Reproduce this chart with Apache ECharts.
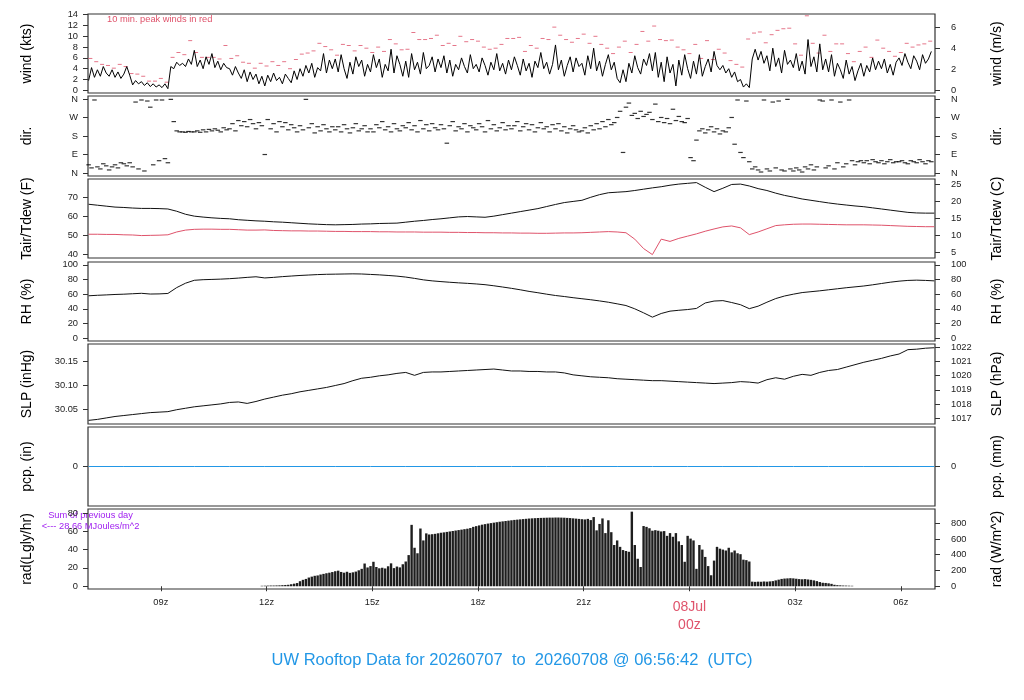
<!DOCTYPE html>
<html>
<head>
<meta charset="utf-8">
<script src="https://cdn.jsdelivr.net/npm/echarts@6/dist/echarts.min.js"></script>
</head>
<body style="margin:0">
<div id="container" style="width:1024px;height:700px"></div>
<script>
// hours since 00z 07 Jul; 5-min wind / direction, starting 06:57
var windStart = 6.95, step5 = 1 / 12;
var wind = [
  1.8, 4.2, 2.4, 3.8, 2.6, 4.4, 3.2, 2.6, 3.8, 2.4, 3.4, 2.2,
  3.0, 4.4, 2.8, 1.0, 1.8, 1.2, 1.6, 0.9, 1.4, 0.7, 1.2, 0.6,
  1.0, 0.5, 1.2, 0.3, 4.4, 4.0, 5.2, 4.6, 5.0, 4.4, 5.8, 4.8,
  7.4, 4.4, 5.6, 4.0, 6.2, 4.8, 6.8, 4.2, 5.4, 3.8, 5.0, 4.2,
  4.0, 2.8, 4.4, 3.2, 2.2, 3.8, 1.6, 3.4, 2.0, 3.0, 1.2, 2.6,
  0.8, 2.8, 1.6, 3.2, 1.8, 2.4, 1.2, 3.0, 2.2, 1.4, 3.6, 2.0,
  4.0, 2.6, 4.6, 3.2, 5.0, 2.4, 4.2, 3.6, 6.8, 3.2, 5.6, 4.0,
  5.8, 3.4, 6.6, 4.0, 2.2, 5.2, 3.0, 6.2, 4.4, 5.6, 2.6, 4.8,
  3.4, 6.6, 4.2, 5.8, 2.4, 4.8, 3.6, 7.6, 3.2, 6.4, 4.8, 2.6,
  5.4, 2.4, 6.8, 3.8, 5.2, 3.0, 7.0, 4.0, 4.6, 6.2, 3.4, 5.8,
  4.2, 6.4, 3.2, 5.6, 2.6, 4.8, 3.8, 6.0, 4.4, 3.2, 6.6, 4.0,
  4.8, 3.4, 6.0, 4.6, 2.8, 5.2, 3.8, 6.8, 3.6, 5.0, 3.0, 5.6,
  3.8, 6.2, 4.6, 2.8, 5.8, 3.6, 5.0, 2.4, 5.4, 4.2, 7.0, 4.0,
  5.2, 3.0, 4.8, 8.4, 3.8, 5.6, 2.6, 4.6, 6.2, 3.4, 6.0, 4.4,
  5.0, 2.8, 6.4, 4.0, 7.8, 3.6, 5.4, 2.6, 4.8, 6.6, 3.8, 5.2,
  2.2, 1.4, 3.8, 1.6, 5.0, 3.2, 6.4, 4.2, 3.0, 5.8, 4.6, 6.8,
  3.6, 7.0, 2.4, 5.2, 1.6, 6.2, 3.2, 4.8, 0.8, 5.6, 2.8, 6.6,
  4.0, 2.2, 5.4, 3.0, 6.6, 2.6, 4.4, 5.8, 3.4, 7.2, 4.6, 3.8,
  4.6, 3.2, 4.0, 2.4, 3.4, 1.6, 2.0, 0.6, 1.2, 0.5, 5.8, 7.6,
  5.6, 7.2, 5.0, 6.4, 3.6, 7.8, 4.4, 6.0, 3.2, 7.4, 4.8, 5.6,
  4.2, 6.8, 3.6, 5.4, 3.0, 9.4, 4.4, 6.2, 3.4, 8.6, 3.8, 5.8,
  3.4, 6.6, 2.6, 5.0, 3.8, 2.2, 5.6, 3.0, 4.4, 1.8, 3.6, 5.0,
  2.6, 4.6, 3.4, 6.0, 3.8, 5.4, 4.0, 5.8, 3.2, 4.8, 2.8, 5.2,
  6.0, 4.6, 6.8, 5.2, 4.0, 6.4, 5.4, 3.8, 6.6, 5.0, 5.8, 7.2
];
// 10-min peak winds (kts), starting 07:00
var peakStart = 7.0, step10 = 1 / 6;
var peak = [
  5.9, 5.3, 4.8, 4.6, 4.1, 4.8,
  4.4, 3.1, 3.0, 2.6, 1.7, 1.7,
  2.2, 1.5, 6.1, 7.0, 6.6, 9.2,
  7.0, 6.1, 6.1, 6.1, 5.8, 8.3,
  5.9, 6.4, 5.2, 5.0, 4.1, 5.0,
  4.5, 5.3, 4.6, 5.3, 4.0, 5.7,
  6.7, 6.9, 7.3, 8.7, 8.1, 7.5,
  6.5, 8.5, 8.3, 7.3, 8.3, 7.8,
  7.0, 8.0, 7.2, 9.4, 8.6, 7.5,
  7.6, 10.7, 9.4, 9.4, 9.6, 10.2,
  8.3, 8.7, 8.3, 10.0, 9.0, 9.4,
  9.1, 8.0, 7.6, 7.8, 8.5, 9.6,
  9.6, 9.8, 7.2, 8.3, 7.8, 9.6,
  9.4, 11.7, 10.2, 9.4, 8.9, 9.6,
  10.4, 8.7, 10.0, 8.5, 7.8, 6.8,
  8.0, 9.1, 7.0, 8.5, 10.9, 9.1,
  11.9, 9.4, 9.2, 9.3, 8.0, 7.5,
  6.8, 8.5, 5.9, 9.2, 5.7, 7.6,
  6.9, 5.5, 4.8, 4.3, 9.5, 10.6,
  10.8, 8.8, 10.3, 11.1, 11.4, 11.5,
  8.6, 6.5, 13.8, 8.7, 6.9, 10.2,
  7.2, 8.6, 8.6, 6.8, 5.3, 7.2,
  8.0, 6.1, 9.3, 7.8, 7.2, 6.3,
  7.0, 8.7, 8.0, 8.4, 8.6, 9.1
];
// wind direction (deg), 5-min
var dir = [
  40, 25, 355, 30, 20, 45, 35, 15, 30, 40, 25, 50,
  45, 35, 50, 30, 345, 20, 355, 10, 350, 320, 40, 355,
  60, 355, 70, 50, 358, 250, 205, 200, 200, 198, 202, 200,
  200, 205, 198, 210, 200, 212, 205, 215, 208, 200, 220, 210,
  215, 240, 205, 255, 230, 250, 225, 260, 240, 215, 245, 230,
  90, 260, 215, 240, 200, 250, 225, 245, 210, 235, 220, 200,
  230, 210, 358, 220, 240, 195, 225, 205, 235, 215, 200, 225,
  210, 225, 200, 235, 215, 195, 220, 240, 205, 215, 230, 200,
  215, 200, 235, 220, 250, 210, 225, 200, 240, 215, 205, 230,
  220, 245, 210, 230, 200, 255, 215, 235, 205, 240, 220, 210,
  235, 215, 145, 230, 250, 205, 225, 215, 240, 200, 230, 220,
  210, 240, 225, 200, 255, 215, 235, 205, 220, 245, 210, 230,
  215, 230, 250, 205, 225, 240, 210, 235, 200, 220, 245, 215,
  225, 200, 235, 215, 240, 205, 225, 195, 215, 230, 210, 200,
  205, 220, 195, 230, 210, 240, 215, 250, 225, 260, 235, 245,
  270, 300, 100, 320, 340, 280, 290, 265, 300, 275, 285, 295,
  260, 335, 250, 270, 245, 265, 240, 310, 255, 275, 250, 245,
  265, 75, 60, 160, 205, 215, 195, 210, 225, 200, 215, 190,
  205, 200, 220, 270, 140, 355, 100, 75, 350, 55, 20, 30,
  15, 5, 355, 20, 10, 345, 25, 350, 15, 10, 358, 20,
  10, 25, 15, 5, 30, 20, 40, 15, 30, 355, 350, 25,
  35, 355, 20, 50, 345, 30, 45, 355, 60, 40, 55, 60,
  50, 60, 45, 65, 55, 50, 60, 45, 55, 65, 50, 55,
  55, 60, 50, 45, 60, 55, 50, 65, 55, 45, 60, 55
];
// 15-min state values, starting 06:57
var stateStart = 6.95, step15 = 0.25;
var tair = [
  66.5, 66.0, 65.5, 65.0, 64.8, 64.5, 64.3, 64.3, 64.2, 64.0,
  62.8, 61.2, 60.2, 59.7, 59.3, 59.0, 58.8, 58.3, 58.0, 57.7,
  57.5, 57.2, 57.0, 56.7, 56.4, 56.1, 55.9, 55.7, 55.6, 55.7,
  55.8, 56.0, 56.1, 56.3, 56.4, 56.5, 57.0, 57.5, 57.9, 58.4,
  58.8, 59.3, 59.8, 60.0, 59.8, 59.6, 60.2, 61.0, 61.8, 62.6,
  63.4, 64.2, 65.3, 66.4, 67.4, 68.0, 68.6, 70.2, 71.6, 72.6,
  72.9, 73.2, 73.8, 74.5, 75.2, 75.8, 76.6, 77.2, 77.6, 78.0,
  75.5, 73.2, 75.0, 77.0, 77.2, 76.2, 74.8, 73.8, 72.4, 71.2,
  70.3, 69.3, 68.6, 67.9, 67.2, 66.6, 66.1, 65.6, 65.2, 64.6,
  64.0, 63.4, 62.8, 62.2, 61.9, 61.8, 61.8
];
var tdew = [
  50.6, 50.6, 50.5, 50.5, 50.3, 50.2, 49.9, 50.0, 50.1, 50.3,
  51.8, 52.8, 53.2, 53.3, 53.3, 53.2, 53.2, 53.0, 52.8, 52.8,
  52.9, 52.6, 52.5, 52.4, 52.4, 52.3, 52.3, 52.2, 52.1, 52.1,
  52.0, 52.0, 52.0, 51.9, 51.9, 51.8, 51.8, 51.8, 51.7, 51.7,
  51.7, 51.6, 51.6, 51.5, 51.5, 51.4, 51.4, 51.3, 51.3, 51.2,
  51.2, 51.1, 51.1, 51.2, 51.3, 51.3, 51.4, 51.6, 51.8, 52.0,
  51.8, 51.4, 48.0, 43.0, 39.8, 48.0, 46.8, 48.4, 49.6, 50.8,
  52.2, 53.4, 54.5, 55.0, 54.0, 50.4, 51.8, 53.5, 55.2, 55.6,
  55.9, 56.0, 56.0, 55.9, 55.8, 55.7, 55.6, 55.6, 55.6, 55.5,
  55.4, 55.2, 55.0, 54.8, 54.7, 54.6, 54.6
];
var rh = [
  57.8, 58.5, 59.0, 59.6, 60.0, 60.6, 61.2, 60.2, 60.4, 61.0,
  69.0, 75.0, 79.0, 79.8, 80.2, 80.6, 81.2, 82.0, 83.0, 83.8,
  82.2, 83.0, 84.0, 84.8, 85.6, 86.2, 86.8, 87.2, 87.4, 87.6,
  87.8, 87.6, 87.0, 86.4, 85.6, 84.7, 83.4, 81.6, 79.6, 78.2,
  77.2, 76.3, 75.5, 74.8, 74.0, 73.0, 71.5, 69.8, 68.0, 66.0,
  63.8, 62.0, 60.0, 58.2, 56.8, 55.2, 53.8, 52.4, 50.8, 49.0,
  46.8, 44.5, 40.0, 34.5, 28.6, 33.6, 36.8, 38.0, 39.0, 40.5,
  48.0, 50.6, 51.2, 48.6, 45.6, 40.2, 43.6, 49.0, 54.0, 57.5,
  60.0, 62.2, 63.4, 64.6, 66.0, 67.4, 68.8, 70.0, 71.2, 72.8,
  74.6, 76.4, 77.8, 78.8, 79.2, 78.8, 78.2
];
var slp = [
  30.028, 30.030, 30.033, 30.036, 30.038, 30.040, 30.042, 30.044, 30.045, 30.046,
  30.050, 30.053, 30.056, 30.058, 30.060, 30.062, 30.065, 30.066, 30.063, 30.067,
  30.072, 30.076, 30.080, 30.083, 30.087, 30.090, 30.093, 30.096, 30.100, 30.104,
  30.110, 30.115, 30.117, 30.120, 30.122, 30.125, 30.127, 30.121, 30.127, 30.128,
  30.128, 30.129, 30.130, 30.131, 30.132, 30.133, 30.134, 30.132, 30.130, 30.130,
  30.129, 30.129, 30.128, 30.128, 30.126, 30.122, 30.120, 30.118, 30.117, 30.116,
  30.114, 30.113, 30.112, 30.111, 30.110, 30.110, 30.109, 30.108, 30.107, 30.106,
  30.105, 30.104, 30.105, 30.106, 30.108, 30.107, 30.105, 30.112, 30.116, 30.113,
  30.119, 30.123, 30.121, 30.127, 30.131, 30.133, 30.138, 30.143, 30.148, 30.152,
  30.156, 30.161, 30.165, 30.174, 30.175, 30.177, 30.178
];
// hourly precipitation (in)
var pcpStart = 6.95, step60 = 1;
var pcp = [0, 0, 0, 0, 0, 0, 0, 0, 0, 0, 0, 0, 0, 0, 0, 0, 0, 0, 0, 0, 0, 0, 0, 0, 0];
// solar radiation (Lgly/hr), 5-min
var rad = [
  0, 0, 0, 0, 0, 0, 0, 0, 0, 0, 0, 0,
  0, 0, 0, 0, 0, 0, 0, 0, 0, 0, 0, 0,
  0, 0, 0, 0, 0, 0, 0, 0, 0, 0, 0, 0,
  0, 0, 0, 0, 0, 0, 0, 0, 0, 0, 0, 0,
  0, 0, 0, 0, 0, 0, 0, 0, 0, 0, 0, 0.5,
  0.6, 0.7, 0.8, 0.8, 0.9, 1.0, 1.2, 1.4, 1.6, 2.2, 2.8, 3.5,
  5.5, 7.0, 8.0, 9.5, 10.5, 11.4, 11.8, 12.8, 13.5, 14.2, 14.8, 15.5,
  16.4, 17.0, 15.6, 14.8, 15.8, 14.6, 15.2, 16.0, 17.4, 19.0, 24.8, 20.5,
  22.0, 26.7, 21.0, 19.6, 20.2, 19.4, 21.8, 25.0, 19.8, 21.5, 20.6, 24.0,
  27.0, 34.0, 67.0, 42.0, 36.0, 63.0, 50.0, 57.7, 56.5, 56.8, 57.2, 57.8,
  58.4, 58.8, 59.3, 59.8, 60.3, 60.8, 61.3, 61.8, 62.3, 62.8, 63.5, 64.8,
  65.6, 66.4, 67.2, 67.8, 68.4, 68.9, 69.4, 69.9, 70.4, 70.8, 71.2, 71.6,
  72.0, 72.4, 72.7, 73.0, 73.3, 73.6, 73.9, 74.1, 74.3, 74.5, 74.6, 74.7,
  74.8, 74.9, 74.9, 75.0, 75.0, 74.9, 74.8, 74.6, 74.4, 74.1, 73.8, 73.5,
  73.2, 72.9, 73.5, 72.2, 75.5, 61.0, 68.0, 74.0, 58.0, 72.0, 59.0, 45.0,
  50.0, 43.0, 39.5, 38.5, 37.6, 81.4, 45.0, 30.0, 21.0, 65.7, 64.8, 63.3,
  60.6, 61.2, 60.6, 59.8, 60.2, 55.0, 58.0, 54.0, 58.0, 49.0, 45.0, 26.7,
  55.0, 52.0, 50.0, 19.0, 45.0, 40.0, 32.0, 22.0, 12.0, 28.0, 43.0, 41.0,
  40.0, 39.0, 42.0, 37.0, 39.0, 36.0, 35.0, 29.0, 28.5, 27.0, 5.0, 4.8,
  5.0, 4.9, 5.2, 5.0, 5.3, 5.6, 6.4, 7.2, 8.0, 8.4, 8.6, 8.8,
  8.6, 8.2, 7.8, 7.6, 7.8, 7.4, 7.0, 6.4, 5.6, 4.6, 3.8, 3.6,
  3.2, 2.6, 1.6, 1.2, 1.0, 0.8, 0.7, 0.6, 0.5, 0, 0, 0,
  0, 0, 0, 0, 0, 0, 0, 0, 0, 0, 0, 0,
  0, 0, 0, 0, 0, 0, 0, 0, 0, 0, 0, 0
];
// numbered marks along the top of the radiation panel
var radMarkTimes = [14.79, 15.97, 16.51, 16.92, 17.34, 17.69, 18.38, 19.05, 19.72, 20.33, 20.98, 21.70, 22.66, 23.46, 23.97, 24.60, 25.31, 27.47];
var radMarkLabels = ['1', '2', '3', '4', '5', '6', '8', '10', '12', '14', '16', '18', '20', '22', '23', '24', '25', '26'];
var xTicks = [9, 12, 15, 18, 21, 24, 27, 30];

function pts(start, step, vals) {
    var out = [];
    for (var i = 0; i < vals.length; i++) out.push([start + i * step, vals[i]]);
    return out;
}

var FONT = '"Liberation Sans", Arial, sans-serif';
var RED = '#DF536B', PURPLE = '#A020F0', BLUE = '#2297E6';
var xMin = 6.933, xMax = 30.97;
var tops = [14, 96, 179, 262, 344, 427, 509];
var heights = [79, 80, 79, 79, 80, 79, 80];

var grids = [], xAxes = [], yAxes = [];
for (var g = 0; g < 7; g++) {
    grids.push({left: 88, width: 847, top: tops[g], height: heights[g], show: true,
        borderColor: '#333', borderWidth: 1.2});
    xAxes.push({
        type: 'value', gridIndex: g, min: xMin, max: xMax,
        axisLine: {show: false}, splitLine: {show: false},
        axisTick: {show: g === 6, customValues: xTicks, length: 5, lineStyle: {color: '#333'}},
        axisLabel: {
            show: g === 6, customValues: xTicks, margin: 9, fontSize: 9.3, fontFamily: FONT, color: '#222',
            formatter: function (v) {
                if (Math.abs(v - 24) < 0.01) return '{r|08Jul}\n{r|00z}';
                var h = Math.round(v) % 24;
                return (h < 10 ? '0' : '') + h + 'z';
            },
            rich: {r: {fontSize: 14, color: RED, fontFamily: FONT, lineHeight: 18}}
        }
    });
}

function yAxis(g, pos, min, max, ticks, name, fmt) {
    return {
        type: 'value', gridIndex: g, position: pos, min: min, max: max,
        name: name, nameLocation: 'middle', nameGap: pos === 'left' ? 54 : 55, nameRotate: 90,
        nameTextStyle: {fontSize: 14, fontFamily: FONT, color: '#000'},
        axisLine: {show: false}, splitLine: {show: false},
        axisTick: {show: true, customValues: ticks, length: 5, lineStyle: {color: '#333'}},
        axisLabel: {show: true, customValues: ticks, margin: pos === 'left' ? 10 : 16,
            fontSize: 9.3, fontFamily: FONT, color: '#222', formatter: fmt}
    };
}
var KT = 1.94384, HPA = 33.8639, LGLY = 11.63;
var dirName = function (v) { return {0: 'N', 90: 'E', 180: 'S', 270: 'W', 360: 'N'}[Math.round(v)]; };
var plain = function (v) { return String(v); };
var fTf = function (v) { return v.toFixed(2); };
yAxes.push(yAxis(0, 'left', -0.5, 14.13, [0, 2, 4, 6, 8, 10, 12, 14], 'wind (kts)', plain));
yAxes.push(yAxis(0, 'right', -0.5 / KT, 14.13 / KT, [0, 2, 4, 6], 'wind (m/s)', plain));
yAxes.push(yAxis(1, 'left', -14.4, 374.4, [0, 90, 180, 270, 360], 'dir.', dirName));
yAxes.push(yAxis(1, 'right', -14.4, 374.4, [0, 90, 180, 270, 360], 'dir.', dirName));
yAxes.push(yAxis(2, 'left', 38.0, 79.9, [40, 50, 60, 70], 'Tair/Tdew (F)', plain));
yAxes.push(yAxis(2, 'right', (38.0 - 32) / 1.8, (79.9 - 32) / 1.8, [5, 10, 15, 20, 25], 'Tair/Tdew (C)', plain));
yAxes.push(yAxis(3, 'left', -4, 104, [0, 20, 40, 60, 80, 100], 'RH (%)', plain));
yAxes.push(yAxis(3, 'right', -4, 104, [0, 20, 40, 60, 80, 100], 'RH (%)', plain));
yAxes.push(yAxis(4, 'left', 30.0205, 30.1857, [30.05, 30.10, 30.15], 'SLP (inHg)', fTf));
yAxes.push(yAxis(4, 'right', 30.0205 * HPA, 30.1857 * HPA, [1017, 1018, 1019, 1020, 1021, 1022], 'SLP (hPa)', plain));
yAxes.push(yAxis(5, 'left', -1, 1, [0], 'pcp. (in)', plain));
yAxes.push(yAxis(5, 'right', -25.4, 25.4, [0], 'pcp. (mm)', plain));
yAxes.push(yAxis(6, 'left', -3.0, 84.3, [0, 20, 40, 60, 80], 'rad(Lgly/hr)', plain));
yAxes.push(yAxis(6, 'right', -3.0 * LGLY, 84.3 * LGLY, [0, 200, 400, 600, 800], 'rad (W/m^2)', plain));

function line(xi, yi, data, color) {
    return {type: 'line', xAxisIndex: xi, yAxisIndex: yi, data: data, symbol: 'none',
        lineStyle: {color: color, width: 1}, silent: true};
}

var option = {
    animation: false,
    backgroundColor: '#fff',
    grid: grids, xAxis: xAxes, yAxis: yAxes,
    series: [
        line(0, 0, pts(windStart, step5, wind), '#000'),
        {type: 'scatter', xAxisIndex: 0, yAxisIndex: 0, data: pts(peakStart, step10, peak),
            symbol: 'rect', symbolSize: [4, 1], itemStyle: {color: RED}, silent: true},
        {type: 'scatter', xAxisIndex: 1, yAxisIndex: 2, data: pts(windStart, step5, dir),
            symbol: 'rect', symbolSize: [4.5, 1.2], itemStyle: {color: '#000'}, silent: true},
        line(2, 4, pts(stateStart, step15, tair), '#111'),
        line(2, 4, pts(stateStart, step15, tdew), RED),
        line(3, 6, pts(stateStart, step15, rh), '#111'),
        line(4, 8, pts(stateStart, step15, slp), '#111'),
        line(5, 10, pts(pcpStart, step60, pcp), BLUE),
        {type: 'bar', xAxisIndex: 6, yAxisIndex: 12, data: pts(windStart, step5, rad),
            barWidth: 2.4, itemStyle: {color: '#1e1e1e'}, silent: true},
        {type: 'scatter', xAxisIndex: 6, yAxisIndex: 12, silent: true,
            data: radMarkTimes.map(function (t, i) { return {value: [t, 77.8], name: radMarkLabels[i]}; }),
            symbolSize: 1, itemStyle: {opacity: 0},
            label: {show: true, position: 'inside', formatter: '{b}', color: PURPLE, fontSize: 9.5, fontFamily: FONT}}
    ],
    graphic: [
        {type: 'text', x: 107, y: 14.5, style: {text: '10 min. peak winds in red', fill: RED,
            font: '9.3px ' + FONT}},
        {type: 'text', x: 90.5, y: 509.5, style: {text: 'Sum of previous day\n<--- 28.66 MJoules/m^2',
            fill: PURPLE, font: '9.3px ' + FONT, align: 'center', lineHeight: 11}},
        {type: 'text', x: 512, y: 660, style: {text: 'UW Rooftop Data for 20260707  to  20260708 @ 06:56:42  (UTC)',
            fill: BLUE, font: '16.5px ' + FONT, align: 'center', verticalAlign: 'middle'}}
    ]
};

var myChart = echarts.init(document.getElementById('container'));
myChart.setOption(option);
</script>
</body>
</html>
